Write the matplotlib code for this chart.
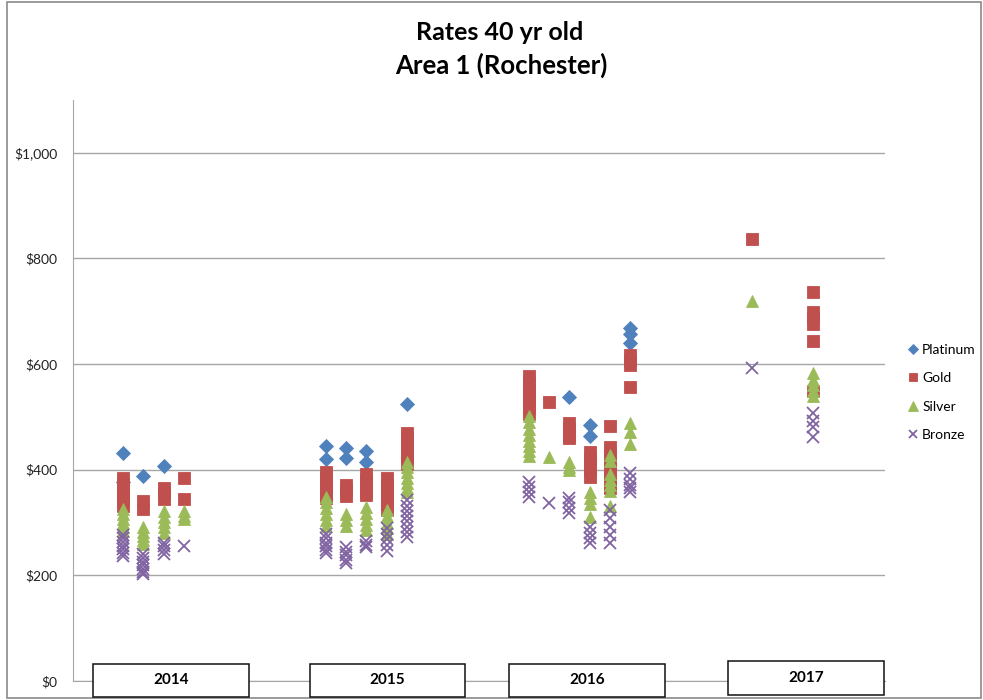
import matplotlib
matplotlib.use("Agg")
import matplotlib.pyplot as plt
from matplotlib.patches import Rectangle

plt.rcParams['font.family'] = ['Lato', 'DejaVu Sans']

W, H = 983, 700

years = ['2014', '2015', '2016', '2017']
series_names = ['Platinum', 'Gold', 'Silver', 'Bronze']
series_colors = ['#4F81BD', '#C0504D', '#9BBB59', '#8064A2']
y_ticks = [0, 200, 400, 600, 800, 1000]
y_tick_labels = ['$0', '$200', '$400', '$600', '$800', '$1,000']

# plan slots along the x axis, per year
slots_2014 = [0, 1, 2, 3]
slots_2015 = [10, 11, 12, 13, 14]
slots_2016 = [20, 21, 22, 23, 24, 25]
slots_2017 = [31, 34]

# monthly rates per plan slot
platinum_2014 = [[431, 376], [389], [408], []]
gold_2014 = [[384, 373, 362, 351, 340, 331], [340, 325], [366, 356, 345], [385, 344]]
silver_2014 = [[325, 316, 307, 299, 291, 284], [292, 283, 275, 267, 260],
               [321, 311, 301, 291, 281], [321, 313, 306]]
bronze_2014 = [[277, 270, 263, 256, 249, 243, 237], [240, 233, 226, 219, 212, 206, 202],
               [262, 255, 248, 241], [255]]

platinum_2015 = [[445, 421], [442, 423], [436, 415], [], [525]]
gold_2015 = [[396, 385, 373, 362, 352, 347], [372, 361, 351], [391, 380, 368, 358, 353],
             [385, 372, 360, 348, 336, 323], [470, 458, 446, 434, 422, 411]]
silver_2015 = [[349, 338, 327, 316, 305, 294], [317, 305, 294], [330, 318, 306, 295, 285],
               [323, 312, 300, 290, 279], [415, 405, 395, 385, 375, 365, 357]]
bronze_2015 = [[279, 270, 262, 255, 248, 243], [253, 245, 238, 230, 223], [266, 258, 253],
               [289, 278, 268, 257, 247], [342, 332, 322, 312, 302, 292, 282, 272]]

platinum_2016 = [[], [], [538], [484, 464], [], [668, 657, 640]]
gold_2016 = [[577, 565, 553, 541, 529, 517, 505], [528], [489, 477, 465, 461],
             [433, 421, 409, 397, 386], [483, 443, 431, 419, 407, 395, 383, 371, 366],
             [617, 608, 598, 557]]
silver_2016 = [[502, 490, 478, 466, 455, 445, 436, 426], [424], [415, 405, 400],
               [357, 347, 336, 311], [427, 416, 392, 381, 371, 360, 332], [489, 472, 449]]
bronze_2016 = [[377, 367, 358, 349], [337], [347, 338, 328, 319],
               [291, 281, 271, 262], [323, 308, 291, 276, 262], [394, 382, 372, 365, 358]]

platinum_2017 = [[], []]
gold_2017 = [[836], [737, 698, 688, 675, 643, 550]]
silver_2017 = [[720], [583, 570, 560, 550, 540]]
bronze_2017 = [[592], [507, 493, 481, 462]]

slots = [slots_2014, slots_2015, slots_2016, slots_2017]
by_series = {
    'Platinum': [platinum_2014, platinum_2015, platinum_2016, platinum_2017],
    'Gold': [gold_2014, gold_2015, gold_2016, gold_2017],
    'Silver': [silver_2014, silver_2015, silver_2016, silver_2017],
    'Bronze': [bronze_2014, bronze_2015, bronze_2016, bronze_2017],
}

marker_style = {
    'Platinum': dict(marker='D', ms=6.8, mew=0.6),
    'Gold': dict(marker='s', ms=8.4, mew=0.6),
    'Silver': dict(marker='^', ms=9.2, mew=0.6),
    'Bronze': dict(marker='x', ms=8.2, mew=1.3),
}

fig = plt.figure(figsize=(W / 100, H / 100), dpi=100)
ax_left, ax_right, ax_top, ax_bottom = 73, 885, 100, 681
ax = fig.add_axes([ax_left / W, (H - ax_bottom) / H,
                   (ax_right - ax_left) / W, (ax_bottom - ax_top) / H])

handles = []
for name, color in zip(series_names, series_colors):
    xs, ys = [], []
    for year_slots, year_vals in zip(slots, by_series[name]):
        for s, vals in zip(year_slots, year_vals):
            xs.extend([s] * len(vals))
            ys.extend(vals)
    st = marker_style[name]
    (h,) = ax.plot(xs, ys, linestyle='none', marker=st['marker'], ms=st['ms'],
                   mew=st['mew'], color=color, markerfacecolor=color,
                   markeredgecolor=color, label=name)
    handles.append(h)

ax.set_xlim(-2.46, 37.55)
ax.set_ylim(0, 1100)
ax.set_yticks(y_ticks)
ax.set_yticklabels(y_tick_labels, fontsize=10, color='#222222')
ax.set_xticks([])
ax.tick_params(axis='y', length=0, pad=11)
ax.grid(axis='y', color='#a6a6a6', linewidth=1)
ax.set_axisbelow(True)
for side in ('top', 'right'):
    ax.spines[side].set_visible(False)
ax.spines['left'].set_color('#a6a6a6')
ax.spines['bottom'].set_color('#a6a6a6')

fig.text(500 / W, 1 - 33 / H, 'Rates 40 yr old', ha='center', va='center',
         fontsize=18, fontweight='bold')
fig.text(501 / W, 1 - 65 / H, 'Area 1 (Rochester)', ha='center', va='center',
         fontsize=18.5, fontweight='bold')

fig.legend(handles, series_names, loc='upper left',
           bbox_to_anchor=(900 / W, 1 - 337 / H), frameon=False, fontsize=10,
           handlelength=0.9, handletextpad=0.2, labelspacing=1.18,
           markerscale=0.75, borderpad=0.0)

# year label boxes beneath the axis
boxes = [(93, 664, 249, 697), (310, 664, 465, 697), (509, 664, 665, 697), (728, 661, 884, 695)]
for (x0, y0, x1, y1), label in zip(boxes, years):
    fig.add_artist(Rectangle((x0 / W, (H - y1) / H), (x1 - x0) / W, (y1 - y0) / H,
                             transform=fig.transFigure, facecolor='white',
                             edgecolor='#111111', linewidth=1.1, zorder=5))
    fig.text((x0 + x1) / 2 / W, 1 - (y0 + y1) / 2 / H, label, ha='center', va='center',
             fontsize=11, fontweight='bold', zorder=6)

# outer chart border
fig.add_artist(Rectangle((6.5 / W, 2.5 / H), 974 / W, 696 / H, transform=fig.transFigure,
                         fill=False, edgecolor='#8a8a8a', linewidth=1.2))

fig.savefig('out.png', dpi=100)
